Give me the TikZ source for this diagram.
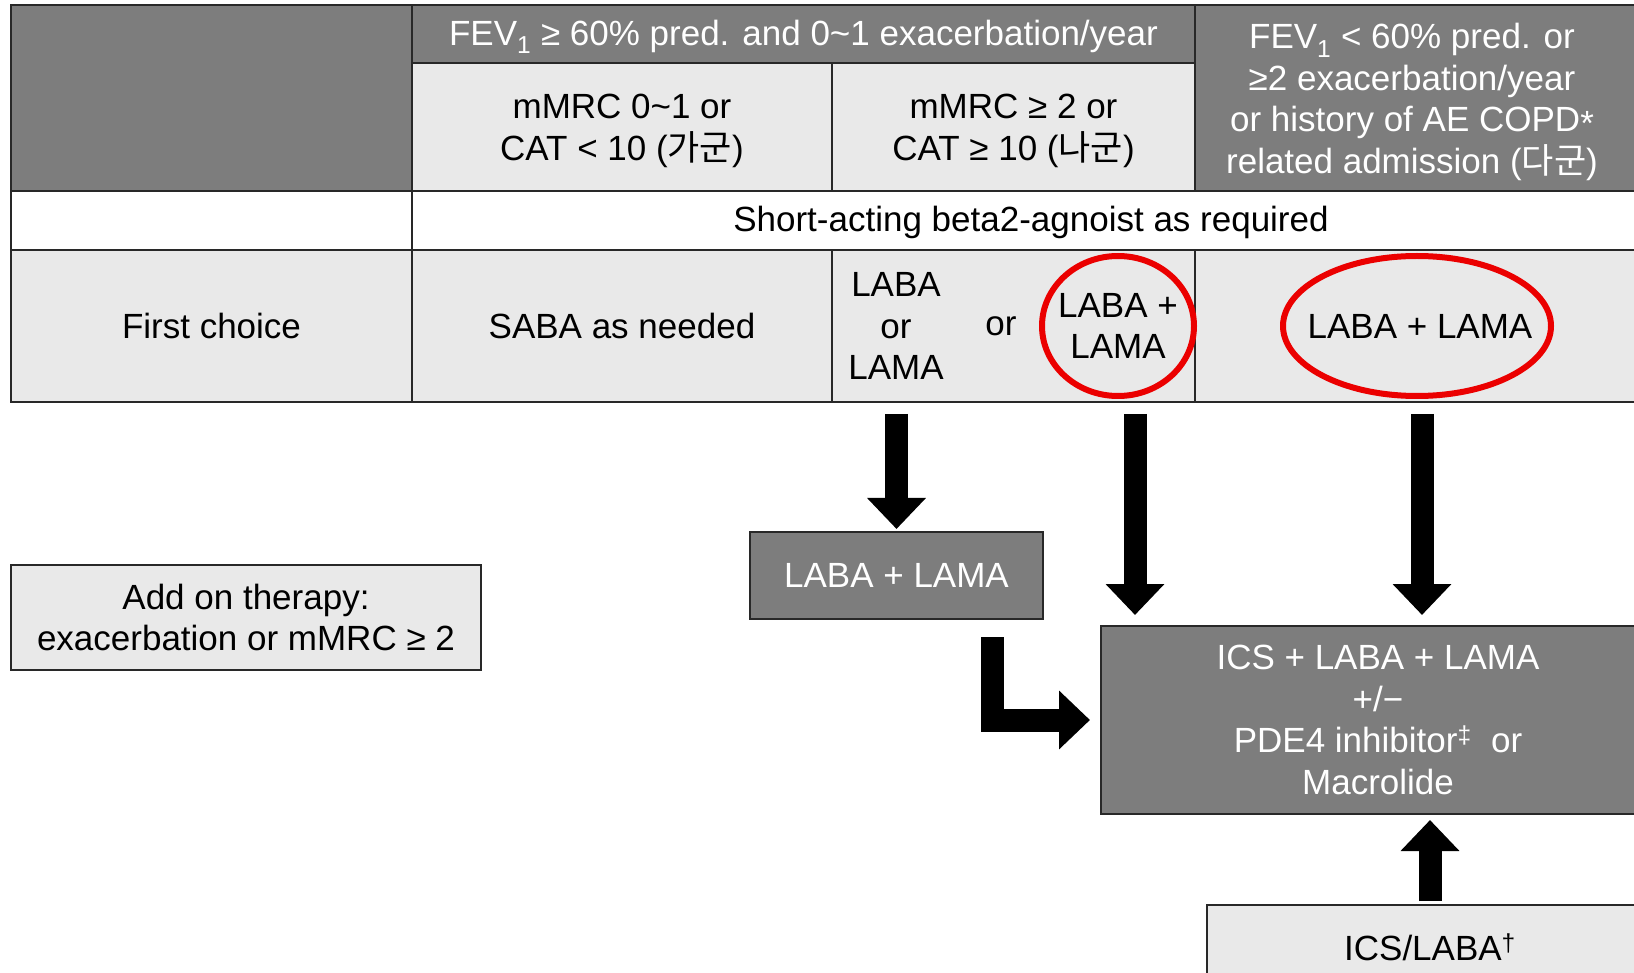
\documentclass[tikz,border=0pt]{standalone}
\usepackage{fontspec}
\setmainfont{Liberation Sans}
\newfontfamily\krfont{Noto Sans CJK KR}
\usetikzlibrary{arrows.meta,shapes.geometric}
\definecolor{cellDark}{RGB}{125,125,125}
\definecolor{cellLight}{RGB}{233,233,233}
\definecolor{ruleGray}{RGB}{40,40,40}
\definecolor{markRed}{RGB}{235,0,0}
\begin{document}
\begin{tikzpicture}[x=1pt,y=-1pt,
  every node/.style={font=\fontsize{35}{41.5}\selectfont, align=center},
  cell/.style={rectangle, draw=ruleGray, line width=2.5pt, inner sep=0pt, outer sep=0pt},
  darkcell/.style={cell, fill=cellDark, text=white},
  lightcell/.style={cell, fill=cellLight, text=black},
  whitecell/.style={cell, fill=white, text=black},
  label/.style={inner sep=0pt},
  pick/.style={ellipse, draw=markRed, line width=6pt, inner sep=0pt},
  blockarrow/.style={draw=black, line width=23pt, line join=miter,
    -{Triangle[width=57pt,length=31pt]}}
]
\clip (0,0) rectangle (1634,973);
\fill[white] (0,0) rectangle (1634,973);

% header rows
\node[darkcell, minimum width=401pt, minimum height=186pt] (corner) at (211.5,98) {};
\node[darkcell, minimum width=783pt, minimum height=58pt] (fevhi) at (803.5,34) {};
\node[label, text=white] (fevhitext) at (803.5,37)
  {FEV\textsubscript{1} ≥ 60\% pred. and 0\textasciitilde1 exacerbation/year};
\node[lightcell, minimum width=420pt, minimum height=128pt] (grpA) at (622,127) {};
\node[label] (grpAtext) at (622,131) {mMRC 0\textasciitilde1 or\\CAT < 10 ({\krfont 가군})};
\node[lightcell, minimum width=363pt, minimum height=128pt] (grpB) at (1013.5,127) {};
\node[label] (grpBtext) at (1013.5,131) {mMRC ≥ 2 or\\CAT ≥ 10 ({\krfont 나군})};
\node[darkcell, minimum width=455pt, minimum height=186pt] (fevlo) at (1422.5,98) {};
\node[label, text=white] (fevlotext) at (1412,102)
  {FEV\textsubscript{1} < 60\% pred. or\\≥2 exacerbation/year\\or history of AE COPD\raisebox{-0.2ex}{*}\\related admission ({\krfont 다군})};

% reliever row
\node[whitecell, minimum width=401pt, minimum height=59pt] (blank) at (211.5,220.5) {};
\node[whitecell, minimum width=1238pt, minimum height=59pt] (saba) at (1031,220.5) {};
\node[label] (sabatext) at (1031,222) {Short-acting beta2-agnoist as required};

% first choice row
\node[lightcell, minimum width=401pt, minimum height=152pt] (first) at (211.5,326) {First choice};
\node[lightcell, minimum width=420pt, minimum height=152pt] (sabaA) at (622,326) {SABA as needed};
\node[lightcell, minimum width=363pt, minimum height=152pt] (choiceB) at (1013.5,326) {};
\node[lightcell, minimum width=455pt, minimum height=152pt] (choiceC) at (1422.5,326) {};
\node[label] (monoB) at (896,326) {LABA\\or\\LAMA};
\node[label] (orB) at (1001,326) {or};
\node[pick, minimum width=152pt, minimum height=140pt] (ringB) at (1118,326) {};
\node[label] (dualB) at (1118,326) {LABA +\\LAMA};
\node[pick, minimum width=268pt, minimum height=140pt] (ringC) at (1417,326) {};
\node[label] (dualC) at (1420,326) {LABA + LAMA};

% escalation boxes
\node[lightcell, minimum width=470pt, minimum height=105pt] (addon) at (246,617.5)
  {Add on therapy:\\exacerbation or mMRC ≥ 2};
\node[darkcell, minimum width=293pt, minimum height=87pt] (dual) at (896.5,575.5) {LABA + LAMA};
\node[darkcell, minimum width=554pt, minimum height=188pt] (triple) at (1378,720)
  {ICS + LABA + LAMA\\+/\textminus\\PDE4 inhibitor\textsuperscript{‡}\ \ or\\Macrolide};
\node[lightcell, minimum width=446pt, minimum height=85pt] (icslaba) at (1430,947.5)
  {ICS/LABA\textsuperscript{†}};

% arrows
\coordinate (fromB1) at (896.5,414);
\coordinate (fromB2) at (1135,414);
\coordinate (fromC) at (1422,414);
\coordinate (fromDual) at (992,637);
\coordinate (fromICS) at (1430,901);
\draw[blockarrow, shorten >=3pt] (fromB1) -- (dual.north);
\draw[blockarrow, shorten >=11pt] (fromB2) -- (fromB2 |- triple.north);
\draw[blockarrow, shorten >=11pt] (fromC) -- (fromC |- triple.north);
\draw[blockarrow, shorten >=11pt] (fromDual) |- (triple.west);
\draw[blockarrow, shorten >=6pt] (fromICS) -- (fromICS |- triple.south);
\end{tikzpicture}
\end{document}
